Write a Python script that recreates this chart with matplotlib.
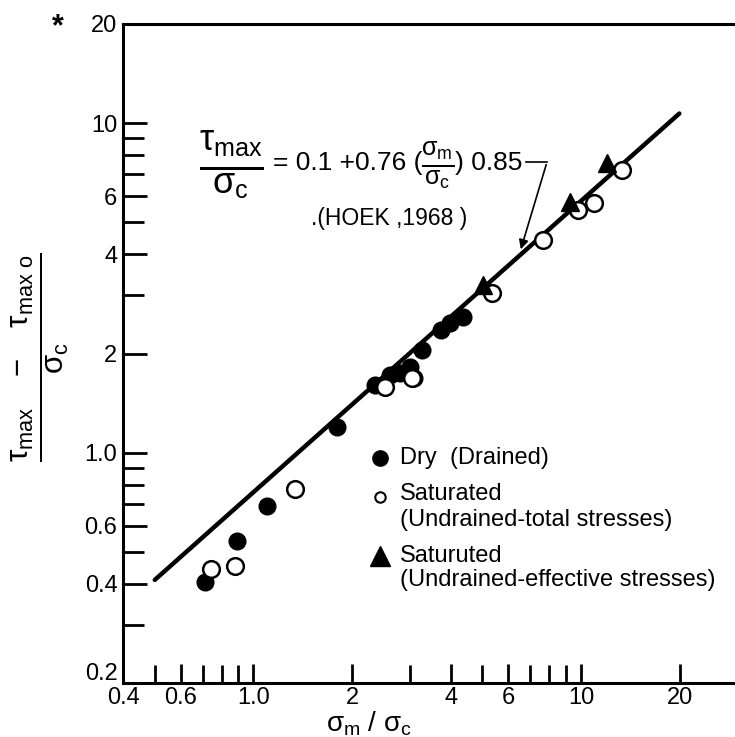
import matplotlib
matplotlib.use("Agg")
import matplotlib.pyplot as plt
import matplotlib.transforms as mtransforms
from matplotlib.lines import Line2D

plt.rcParams["font.family"] = ["Liberation Sans", "DejaVu Sans"]
plt.rcParams["mathtext.fontset"] = "custom"
plt.rcParams["mathtext.rm"] = "Liberation Sans"
plt.rcParams["mathtext.it"] = "Liberation Sans"
plt.rcParams["mathtext.bf"] = "Liberation Sans:bold"

# values (log-log)
dry_x = [0.71, 0.89, 1.10, 1.80, 2.35, 2.61, 2.80, 3.00, 3.10, 3.27, 3.73, 3.97, 4.35]
dry_y = [0.405, 0.54, 0.69, 1.20, 1.60, 1.72, 1.75, 1.82, 1.69, 2.05, 2.36, 2.48, 2.58]

total_x = [0.74, 0.88, 1.34, 2.53, 3.04, 5.33, 7.63, 9.76, 10.99, 13.3]
total_y = [0.444, 0.453, 0.776, 1.58, 1.68, 3.05, 4.42, 5.45, 5.72, 7.21]

eff_x = [5.01, 9.23, 12.04]
eff_y = [3.23, 5.76, 7.57]

# Hoek (1968) fitted line, end points
line_x = [0.50, 19.95]
line_y = [0.411, 10.7]

xticks = [0.4, 0.6, 1.0, 2, 4, 6, 10, 20]
xtick_labels = ["0.4", "0.6", "1.0", "2", "4", "6", "10", "20"]
xminor = [0.5, 0.7, 0.8, 0.9, 3, 5, 7, 8, 9]
yticks = [0.2, 0.4, 0.6, 1.0, 2, 4, 6, 10, 20]
ytick_labels = ["0.2", "0.4", "0.6", "1.0", "2", "4", "6", "10", "20"]
yminor = [0.3, 0.5, 0.7, 0.8, 0.9, 3, 5, 7, 8, 9]

W, H = 735, 737
fx = lambda px: px / W
fy = lambda py: 1 - py / H

fig = plt.figure(figsize=(7.35, 7.37), dpi=100)
ax = fig.add_axes([fx(123), fy(683), fx(735) - fx(123), fy(24) - fy(683)])
ax.set_xscale("log")
ax.set_yscale("log")
ax.set_xlim(0.4, 29.5)
ax.set_ylim(0.2, 20)

ax.plot(line_x, line_y, color="black", lw=3.2, solid_capstyle="round", zorder=2)
ax.plot(dry_x, dry_y, "o", ms=12, mfc="black", mec="black", zorder=3)
ax.plot(total_x, total_y, "o", ms=12, mfc="white", mec="black", mew=1.8, zorder=4)
ax.plot(eff_x, eff_y, "^", ms=13, mfc="black", mec="black", zorder=5)

ax.spines["right"].set_visible(False)
for s in ["left", "bottom", "top"]:
    ax.spines[s].set_linewidth(2.2)

ax.set_xticks(xticks)
ax.set_xticklabels(xtick_labels)
ax.set_xticks(xminor, minor=True)
ax.set_yticks(yticks)
ax.set_yticklabels(ytick_labels)
ax.set_yticks(yminor, minor=True)
ax.xaxis.set_minor_formatter(matplotlib.ticker.NullFormatter())
ax.yaxis.set_minor_formatter(matplotlib.ticker.NullFormatter())
ax.tick_params(which="both", direction="in", width=2.0, labelsize=17, top=False, right=False)
ax.tick_params(axis="x", which="major", length=14, pad=3)
ax.tick_params(axis="x", which="minor", length=13)
ax.tick_params(axis="y", which="major", length=17, pad=4)
ax.tick_params(axis="y", which="minor", length=15)

# the bottom y label sits a little higher in the original, clear of "0.4"
lab02 = ax.get_yticklabels()[0]
lab02.set_transform(lab02.get_transform() +
                    mtransforms.ScaledTranslation(0, 8 / 72, fig.dpi_scale_trans))

# axis titles
fig.text(fx(369), fy(724), r"$\sigma_\mathrm{m}\ /\ \sigma_\mathrm{c}$", fontsize=20,
         ha="center", va="center")
fig.text(fx(40), fy(357),
         r"$\frac{\tau_{\mathrm{max}}\quad -\quad \tau_{\mathrm{max\ o}}}{\sigma_\mathrm{c}}$",
         rotation=90, fontsize=32, ha="center", va="center")

# equation annotation
fig.text(fx(231), fy(165), r"$\frac{\tau_{\mathrm{max}}}{\sigma_\mathrm{c}}$", fontsize=37,
         ha="center", va="center")
fig.text(fx(273), fy(163), "= 0.1 +0.76 (", fontsize=19, ha="left", va="center")
fig.text(fx(438), fy(165), r"$\frac{\sigma_\mathrm{m}}{\sigma_\mathrm{c}}$", fontsize=26,
         ha="center", va="center")
fig.text(fx(455), fy(163), ") 0.85", fontsize=19, ha="left", va="center")
fig.text(fx(389), fy(218), ".(HOEK ,1968 )", fontsize=16.5, ha="center", va="center")
fig.add_artist(Line2D([fx(526), fx(547)], [fy(162), fy(162)], color="black", lw=1.2))
fig.add_artist(matplotlib.patches.FancyArrowPatch((fx(547), fy(162)), (fx(520), fy(252)),
               transform=fig.transFigure, arrowstyle="-|>", mutation_scale=14,
               color="black", lw=1.2))

# hand drawn legend
fig.add_artist(Line2D([fx(380)], [fy(458)], marker="o", ms=11, mfc="black", mec="black"))
fig.add_artist(Line2D([fx(380)], [fy(497)], marker="o", ms=7.5, mfc="white", mec="black", mew=1.5))
fig.add_artist(Line2D([fx(380)], [fy(556)], marker="^", ms=14, mfc="black", mec="black"))
fig.text(fx(400), fy(458), "Dry  (Drained)", fontsize=17, va="center")
fig.text(fx(400), fy(494), "Saturated", fontsize=17, va="center")
fig.text(fx(400), fy(520), "(Undrained-total stresses)", fontsize=17, va="center")
fig.text(fx(400), fy(556), "Saturuted", fontsize=17, va="center")
fig.text(fx(400), fy(580), "(Undrained-effective stresses)", fontsize=17, va="center")

fig.text(fx(58), fy(27), "*", fontsize=22, fontweight="bold", ha="center", va="center")

fig.savefig("out.png", dpi=100)
